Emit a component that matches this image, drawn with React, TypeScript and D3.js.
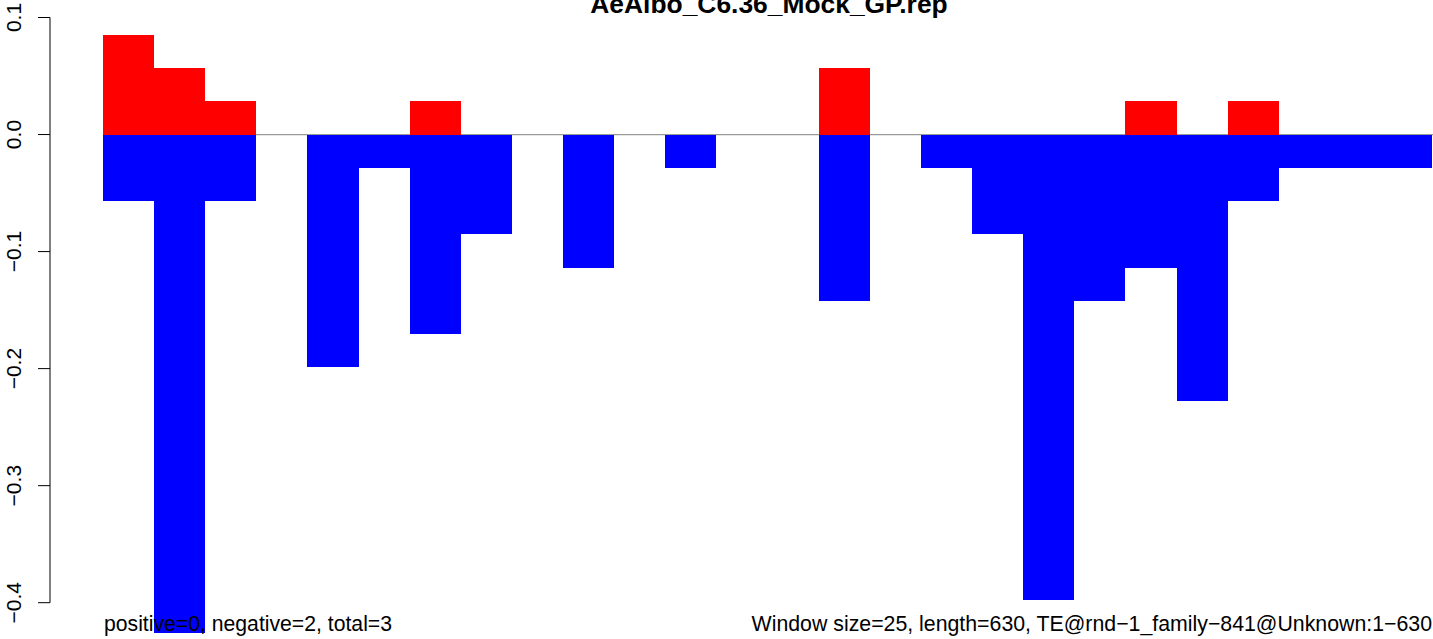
import React from "react";
import * as d3 from "d3";

const title = "AeAlbo_C6.36_Mock_GP.rep";
const windowStarts = [0, 25, 50, 75, 100, 125, 150, 175, 200, 225, 250, 275, 300, 325, 350, 375, 400, 425, 450, 475, 500, 525, 550, 575, 600, 625];
const positiveValues = [0.0853, 0.0568, 0.0284, 0, 0, 0, 0.0284, 0, 0, 0, 0, 0, 0, 0, 0.0568, 0, 0, 0, 0, 0, 0.0284, 0, 0.0284, 0, 0, 0];
const negativeValues = [-0.0568, -0.4257, -0.0568, 0, -0.1989, -0.0284, -0.1705, -0.0853, 0, -0.1137, 0, -0.0284, 0, 0, -0.1421, 0, -0.0284, -0.0853, -0.3977, -0.1421, -0.1137, -0.2274, -0.0568, -0.0284, -0.0284, -0.0284];
const yTicks = [0.1, 0.0, -0.1, -0.2, -0.3, -0.4];
const windowSize = 25;
const leftNote = "positive=0, negative=2, total=3";
const rightNote = "Window size=25, length=630, TE@rnd\u22121_family\u2212841@Unknown:1\u2212630";

const W = 1433;
const H = 639;
const FONT = "'Liberation Sans', Arial, Helvetica, sans-serif";

export default function App() {
  const x = d3.scaleLinear().domain([0, 650]).range([103, 103 + 26 * 51.12]);
  const y = d3.scaleLinear().domain([0.1, -0.4]).range([17.5, 602.7]);
  const fmt = (v: number) => (v < 0 ? "\u2212" : "") + Math.abs(v).toFixed(1);
  const axisX = 50;

  return (
    <svg width={W} height={H} style={{ position: "absolute", left: 0, top: 0, background: "#fff" }} fontFamily={FONT}>
      <line x1={x(0)} x2={W} y1={y(0)} y2={y(0)} stroke="#9a9a9a" strokeWidth={1.2} />
      {windowStarts.map((s, i) =>
        positiveValues[i] > 0 ? (
          <rect key={"p" + i} x={x(s)} width={x(s + windowSize) - x(s)} y={y(positiveValues[i])} height={y(0) - y(positiveValues[i])} fill="#ff0000" shapeRendering="crispEdges" />
        ) : null
      )}
      {windowStarts.map((s, i) =>
        negativeValues[i] < 0 ? (
          <rect key={"n" + i} x={x(s)} width={x(s + windowSize) - x(s)} y={y(0)} height={y(negativeValues[i]) - y(0)} fill="#0000ff" shapeRendering="crispEdges" />
        ) : null
      )}
      <line x1={axisX} x2={axisX} y1={y(0.1)} y2={y(-0.4)} stroke="#000" strokeWidth={1} />
      {yTicks.map((t) => (
        <g key={t}>
          <line x1={axisX - 12} x2={axisX} y1={y(t)} y2={y(t)} stroke="#000" strokeWidth={1} />
          <text transform={`translate(21,${y(t)}) rotate(-90)`} textAnchor="middle" fontSize={21} fill="#000">
            {fmt(t)}
          </text>
        </g>
      ))}
      <text x={769} y={12.5} textAnchor="middle" fontSize={26.4} fontWeight="bold" fill="#000">
        {title}
      </text>
      <text x={104} y={631} fontSize={21.2} fill="#000">
        {leftNote}
      </text>
      <text x={1432} y={631} textAnchor="end" fontSize={21.3} fill="#000">
        {rightNote}
      </text>
    </svg>
  );
}
